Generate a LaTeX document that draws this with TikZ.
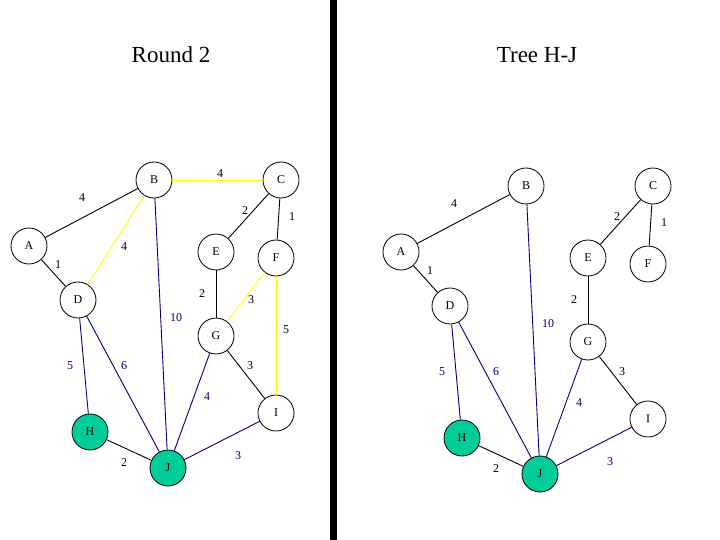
\documentclass[tikz,border=0pt]{standalone}
\usepackage{fontspec}
\setmainfont{Liberation Serif}
\definecolor{seen}{RGB}{0,204,153}
\definecolor{treec}{RGB}{0,0,128}
\definecolor{candc}{RGB}{255,255,0}

\begin{document}
\begin{tikzpicture}[x=1pt,y=-1pt,every node/.style={font=\fontsize{12}{14}\selectfont},
  vtx/.style={draw,circle,minimum size=36pt,inner sep=0pt,line width=0.8pt},
  edge/.style={line width=0.9pt},
  title/.style={font=\fontsize{23}{27}\selectfont}]
  \useasboundingbox (0,0) rectangle (720,540);
  % titles and divider
  \node[title] (t1) at (171,55) {Round 2};
  \node[title] (t2) at (537,55) {Tree H-J};
  \draw[line width=7pt] (333.5,0) -- (333.5,540);
  % both graphs, the tree is the round shifted
  \foreach \s/\dx/\dy in {l/0/0,r/372/6}{
    \begin{scope}[shift={(\dx,\dy)}]
      \foreach \n/\x/\y/\c in {A/29/246/white,B/154/180/white,C/281/180/white,D/78/300/white,E/216/252/white,F/276/258/white,G/216/336/white,I/276/413/white,H/90/432/seen,J/168/468/seen}
        \node[vtx,fill=\c] (\s\n) at (\x,\y) {\n};
      \foreach \a/\b in {A/B,A/D,C/E,C/F,E/G,G/I,H/J}
        \draw[edge] (\s\a) -- (\s\b);
      \foreach \a/\b in {B/J,D/H,D/J,G/J,J/I}
        \draw[edge,treec] (\s\a) -- (\s\b);
      % weights
      \foreach \w/\x/\y/\v in {AB/82/198/4,AD/58/265/1,CE/245/211/2,CF/292/217/1,EG/202/294/2,GI/250/366/3,HJ/124/463/2}
        \node (\s w\w) at (\x,\y) {\v};
      \foreach \w/\x/\y/\v in {BJ/176/318/10,DH/70/366/5,DJ/124/366/6,GJ/207/397/4,JI/238/456/3}
        \node[treec] (\s w\w) at (\x,\y) {\v};
    \end{scope}
  }
  % candidate edges of round 2
  \foreach \a/\b in {B/C,B/D,F/G,F/I}
    \draw[edge,candc] (l\a) -- (l\b);
  \foreach \w/\x/\y/\v in {BC/220/174/4,BD/124/247/4,FG/251/300/3,FI/286/330/5}
    \node (lw\w) at (\x,\y) {\v};
\end{tikzpicture}
\end{document}
